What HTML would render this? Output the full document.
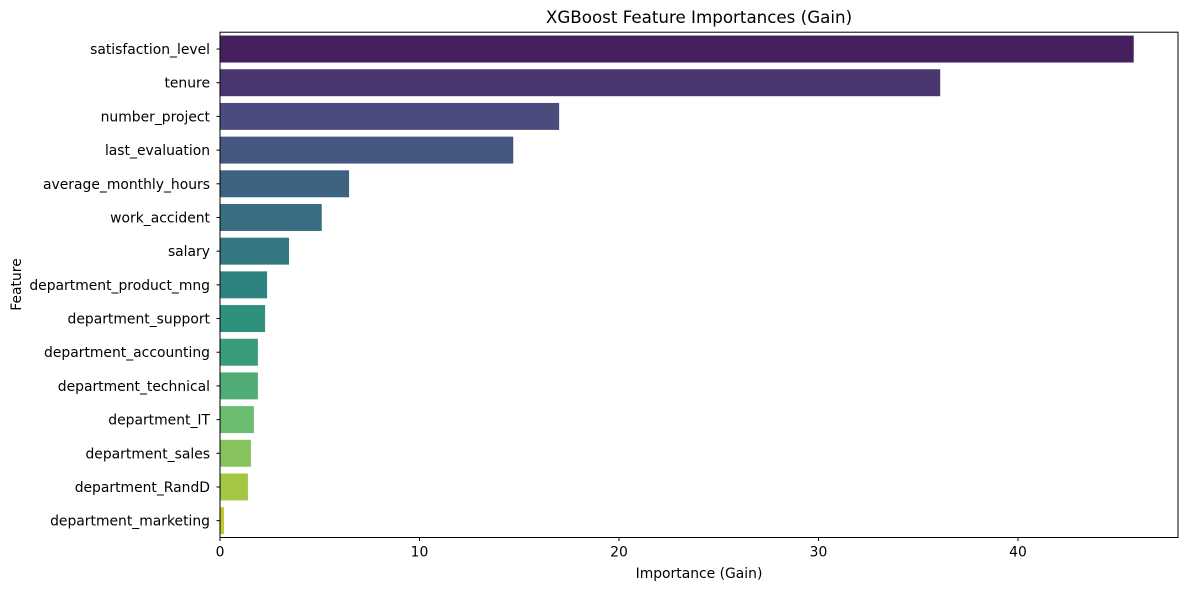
<!DOCTYPE html>
<html><head><meta charset="utf-8">
<style>
html,body{margin:0;padding:0;background:#fff;}
svg{display:block;font-family:"DejaVu Sans","Liberation Sans",sans-serif;}
</style></head>
<body>
<svg id="chart" width="1189" height="590" viewBox="0 0 1189 590">
  <text x="699" y="23" font-size="16.7" text-anchor="middle" fill="#000">XGBoost Feature Importances (Gain)</text>
  <g id="bars"></g>
  <g id="yaxis"></g>
  <g id="xaxis"></g>
  <text x="699" y="578" font-size="13.9" text-anchor="middle" fill="#000">Importance (Gain)</text>
  <text x="0" y="0" font-size="13.9" text-anchor="middle" fill="#000" transform="translate(21,284.5) rotate(-90)">Feature</text>
</svg>
<script>
const features = ["satisfaction_level","tenure","number_project","last_evaluation","average_monthly_hours","work_accident","salary","department_product_mng","department_support","department_accounting","department_technical","department_IT","department_sales","department_RandD","department_marketing"];
const importances = [45.8,36.1,17.0,14.7,6.47,5.1,3.46,2.36,2.26,1.9,1.9,1.7,1.55,1.4,0.2];
const xTicks = [0,10,20,30,40];
const viridisHex = ["#481668","#472c7a","#414487","#3b528b","#33638d","#2c728e","#26828e","#21918c","#1fa088","#28ae80","#3fbc73","#5ec962","#84d44b","#addc30","#d8e219"];

const NS="http://www.w3.org/2000/svg";
const L=220,R=1178,T=32.2,B=537.5;
const xMax=(R-L)/19.95;
const xs=v=>L+v/xMax*(R-L);
const band=(B-T)/features.length;
const yc=i=>T+band*(i+0.5);

function desat(hex,p){
  let r=parseInt(hex.slice(1,3),16)/255,g=parseInt(hex.slice(3,5),16)/255,b=parseInt(hex.slice(5,7),16)/255;
  let mx=Math.max(r,g,b),mn=Math.min(r,g,b),l=(mx+mn)/2,s=0,h=0,d=mx-mn;
  if(d>0){s=l>0.5?d/(2-mx-mn):d/(mx+mn);
    if(mx===r)h=((g-b)/d+(g<b?6:0));else if(mx===g)h=(b-r)/d+2;else h=(r-g)/d+4;h/=6;}
  s*=p;
  const q=l<0.5?l*(1+s):l+s-l*s,pp=2*l-q;
  const f=t=>{if(t<0)t+=1;if(t>1)t-=1;if(t<1/6)return pp+(q-pp)*6*t;if(t<1/2)return q;if(t<2/3)return pp+(q-pp)*(2/3-t)*6;return pp;};
  const c=[f(h+1/3),f(h),f(h-1/3)].map(v=>Math.round(v*255));
  return `rgb(${c[0]},${c[1]},${c[2]})`;
}
function el(tag,attrs,parent){const e=document.createElementNS(NS,tag);for(const k in attrs)e.setAttribute(k,attrs[k]);parent.appendChild(e);return e;}

const gb=document.getElementById('bars'),gy=document.getElementById('yaxis'),gx=document.getElementById('xaxis');
features.forEach((f,i)=>{
  const h=band*0.8;
  const r=el('rect',{x:L,y:yc(i)-h/2,width:xs(importances[i])-L,height:h,fill:desat(viridisHex[i],0.75)},gb);
  
  
  const tk=el('line',{x1:L-3.5,x2:L,y1:yc(i),y2:yc(i),stroke:'#000','stroke-width':1},gy);
  
  
  const t=el('text',{x:L-10,y:yc(i)+5,'font-size':13.9,'text-anchor':'end',fill:'#000'},gy);
  t.textContent=f;
  
  
});
xTicks.forEach(v=>{
  const tk=el('line',{x1:xs(v),x2:xs(v),y1:B,y2:B+3.5,stroke:'#000','stroke-width':1},gx);
  
  
  const t=el('text',{x:xs(v),y:B+19,'font-size':13.9,'text-anchor':'middle',fill:'#000'},gx);
  t.textContent=v;
  
  
});
const frame=el('rect',{x:L,y:T,width:R-L,height:B-T,fill:'none',stroke:'#000','stroke-width':1},document.getElementById('chart'));


</script>
</body></html>
